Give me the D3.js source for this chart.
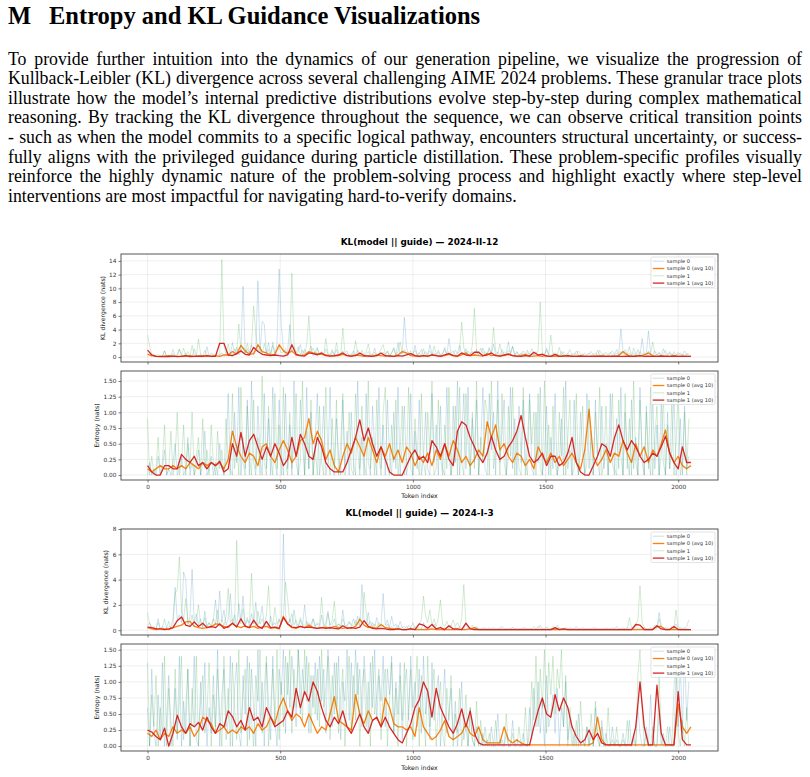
<!DOCTYPE html>
<html><head><meta charset="utf-8">
<script src="https://cdn.jsdelivr.net/npm/d3@7"></script>
<style>
html,body{margin:0;padding:0;background:#fff;width:810px;height:777px;overflow:hidden;}
#page{position:relative;width:810px;height:777px;}
.ln{position:absolute;left:8px;width:794px;height:19.65px;font-family:"Liberation Serif","Times New Roman",serif;font-size:17.8px;line-height:19.65px;text-align:justify;text-align-last:justify;color:#000;white-space:nowrap;}
.ln.last{text-align-last:left;}
svg{position:absolute;left:0;top:0;}
</style></head>
<body><div id="page"></div>
<script>
// ---------------- text ----------------
const sectionNum = "M";
const sectionTitle = "Entropy and KL Guidance Visualizations";
const paragraphLines = [
"To provide further intuition into the dynamics of our generation pipeline, we visualize the progression of",
"Kullback-Leibler (KL) divergence across several challenging AIME 2024 problems. These granular trace plots",
"illustrate how the model’s internal predictive distributions evolve step-by-step during complex mathematical",
"reasoning. By tracking the KL divergence throughout the sequence, we can observe critical transition points",
"- such as when the model commits to a specific logical pathway, encounters structural uncertainty, or success-",
"fully aligns with the privileged guidance during particle distillation. These problem-specific profiles visually",
"reinforce the highly dynamic nature of the problem-solving process and highlight exactly where step-level",
"interventions are most impactful for navigating hard-to-verify domains."
];
const figTitles = ["KL(model || guide) — 2024-II-12", "KL(model || guide) — 2024-I-3"];
const legendLabels = ["sample 0", "sample 0 (avg 10)", "sample 1", "sample 1 (avg 10)"];
const xTickVals = [0, 500, 1000, 1500, 2000];
const klTicks1 = [0, 2, 4, 6, 8, 10, 12, 14];
const klTicks2 = [0, 2, 4, 6, 8];
const entTicks = [0, 0.25, 0.5, 0.75, 1.0, 1.25, 1.5];
const rawStep = 8;   // token spacing of raw samples
const avgStep = 16;  // token spacing of avg-10 samples

// ---------------- data: figure 1 (2024-II-12) ----------------
const kl1_s0 = [
0.6,0.2,0.1,0.3,0.1,0.05,0.2,0.1,0.9,0.1,0.2,0.1,0.5,0.1,0.2,1.1,
0.2,0.1,0.6,0.1,0.3,0.1,1.2,0.2,0.1,0.4,0.1,0.2,1.5,0.1,0.3,0.2,
0.3,0.1,0.2,0.6,0.1,0.4,0.2,0.3,2.1,0.5,1.4,0.3,0.8,10.3,0.6,1.2,
0.4,1.8,0.3,0.9,11.1,0.6,5.2,4.8,0.5,2.1,0.3,1.7,0.4,2.0,12.8,4.6,
1.2,0.3,0.8,4.7,0.6,1.5,0.2,0.9,1.8,0.3,1.1,0.4,0.7,1.6,0.2,0.9,
1.4,0.3,0.6,0.2,1.2,0.4,0.1,0.8,0.3,1.1,0.2,0.5,0.9,0.2,0.6,0.3,
0.2,0.9,0.3,1.0,0.2,0.6,0.1,0.4,0.8,0.2,0.3,1.3,0.2,0.5,0.1,0.7,
0.3,0.8,0.2,0.6,1.2,0.3,2.1,0.4,0.6,5.8,1.4,0.3,0.9,0.2,1.7,0.4,
0.5,1.1,0.3,0.8,0.2,1.8,0.4,0.6,0.2,1.0,0.3,0.5,1.4,0.3,2.7,0.6,
0.9,0.2,0.6,1.7,0.3,0.5,1.2,0.2,0.4,0.8,0.3,1.1,0.2,0.6,1.3,0.3,
0.5,1.4,0.3,1.9,0.4,0.7,0.2,1.1,0.3,0.6,2.2,0.4,1.6,0.3,0.8,0.2,
0.6,0.2,0.4,1.0,0.2,0.5,0.3,0.8,0.2,0.3,0.6,0.2,1.3,0.4,0.2,0.5,
0.2,0.5,0.1,0.8,0.3,0.2,0.6,0.1,0.4,0.2,0.9,0.3,0.1,0.5,0.2,0.3,
0.6,0.2,0.4,0.1,1.0,0.3,0.2,0.5,0.1,0.3,0.7,0.2,0.4,1.1,0.3,4.1,
0.8,0.3,0.5,1.5,0.2,0.6,0.3,1.1,0.2,2.7,0.4,0.5,3.8,0.6,0.3,0.9,
0.3,0.6,0.2,1.2,0.4,0.2,0.8,0.3,0.5,0.2,0.7,0.3,0.4,0.2,0.5,0.3];
const kl1_s1 = [
3.2,1.6,0.3,0.2,0.1,0.4,0.1,0.2,0.9,0.1,0.3,0.2,1.1,0.1,0.4,1.2,
0.3,1.3,0.2,0.8,0.1,1.7,0.3,0.2,2.6,0.4,0.1,1.0,0.3,0.2,0.6,0.4,
0.2,0.6,0.3,14.2,1.6,0.4,1.9,0.5,0.3,1.2,0.6,4.8,0.9,1.4,0.5,2.0,
0.6,1.8,7.4,3.4,0.8,1.5,0.4,2.0,0.6,1.1,0.3,2.2,0.5,0.8,1.4,0.6,
0.7,1.2,0.4,0.9,12.2,1.8,0.6,1.5,0.3,1.0,0.5,1.9,6.0,0.8,1.3,0.4,
1.2,0.3,0.8,0.4,2.7,0.6,0.3,1.1,0.2,2.1,0.5,0.3,4.2,0.6,0.9,0.2,
0.5,0.3,2.4,0.6,0.2,1.0,0.3,0.8,1.9,0.4,0.3,0.7,0.2,0.5,1.2,1.8,
0.4,0.9,0.2,0.6,1.4,0.3,0.8,2.2,0.5,1.1,0.3,0.7,0.2,0.5,1.0,0.3,
0.6,0.3,1.2,0.2,0.5,0.9,0.3,1.6,0.4,0.7,0.2,0.5,1.1,0.3,0.8,0.4,
0.3,1.0,0.5,0.8,5.1,1.4,0.4,0.9,0.3,1.7,7.1,0.6,0.4,1.3,0.5,0.8,
0.4,1.1,0.6,4.3,0.9,0.5,1.9,0.3,0.8,0.4,1.0,0.6,1.5,0.3,0.7,0.4,
0.3,0.9,0.2,0.6,0.4,1.2,0.3,0.5,0.8,8.0,0.6,0.4,1.0,0.3,3.2,0.5,
0.6,0.2,1.4,0.3,0.8,0.2,0.5,1.1,0.3,0.6,0.2,0.9,0.4,0.3,0.6,0.2,
0.5,0.8,0.3,0.6,0.2,1.0,0.4,0.3,0.7,0.2,0.5,0.9,0.3,0.6,0.2,0.8,
0.4,1.1,0.3,0.6,0.2,1.3,0.5,0.3,0.8,0.4,0.6,0.2,0.9,0.3,2.2,0.5,
0.3,0.7,0.2,0.5,1.0,0.3,0.6,0.2,0.8,0.4,0.3,0.6,0.2,0.9,0.3,0.5];
const kl1_a0 = [
0.4,0.2,0.1,0.1,0.1,0.2,0.1,0.1,
0.15,0.1,0.2,0.1,0.15,0.2,0.1,0.15,
0.2,0.1,0.3,0.3,0.8,0.4,1.7,0.9,
0.4,0.5,1.8,0.8,0.6,0.3,0.4,1.8,
0.9,0.5,0.9,0.3,0.2,0.3,0.8,0.6,
0.5,0.4,0.3,0.2,0.15,0.2,0.4,0.2,
0.15,0.3,0.2,0.1,0.2,0.15,0.3,0.2,
0.15,0.2,0.1,0.3,0.8,0.6,0.2,0.15,
0.15,0.2,0.1,0.3,0.2,0.15,0.2,0.4,
0.2,0.1,0.3,0.6,0.2,0.3,0.2,0.15,
0.5,0.2,0.3,0.15,0.2,0.5,0.2,0.1,
0.2,0.4,0.1,0.15,0.2,0.1,0.2,0.1,
0.15,0.1,0.2,0.1,0.15,0.1,0.2,0.1,
0.1,0.15,0.1,0.2,0.1,0.15,0.1,0.2,
0.8,0.3,0.1,0.2,0.15,0.3,0.6,0.2,
0.1,0.2,0.15,0.1,0.2,0.1,0.15,0.1,
0.1];
const kl1_a1 = [
1.0,0.3,0.1,0.05,0.1,0.05,0.15,0.05,
0.1,0.2,0.05,0.1,0.15,0.1,0.2,0.1,
0.1,2.0,2.0,0.3,0.2,0.5,0.9,0.4,
0.3,1.4,0.8,0.4,0.3,0.2,0.3,0.2,
0.15,0.3,1.8,0.4,0.2,0.15,0.6,0.5,
0.3,0.6,0.2,0.15,0.2,0.3,0.6,0.2,
0.15,0.2,0.6,0.2,0.15,0.1,0.2,0.6,
0.2,0.15,0.1,0.2,0.15,0.3,0.5,0.2,
0.1,0.2,0.15,0.3,0.2,0.1,0.3,0.5,
0.2,0.15,0.6,0.3,0.2,0.7,0.7,0.2,
0.3,0.6,0.2,0.15,0.3,0.4,0.2,0.15,
0.1,0.2,0.15,0.7,0.3,0.4,0.15,0.1,
0.4,0.1,0.15,0.2,0.1,0.1,0.15,0.1,
0.1,0.1,0.15,0.1,0.1,0.1,0.15,0.1,
0.1,0.15,0.1,0.1,0.2,0.1,0.15,0.1,
0.1,0.15,0.1,0.1,0.15,0.1,0.1,0.1,
0.1];
const ent1_s0 = [
0.0,0.2,0.0,0.1,0.0,0.3,0.0,0.1,0.4,0.0,0.1,0.0,0.2,0.5,0.0,0.1,
0.3,0.0,0.1,0.6,0.0,0.2,0.0,0.1,0.4,0.0,0.2,0.7,0.0,0.1,0.3,0.0,
0.2,0.0,0.5,0.1,0.0,0.3,1.3,0.1,0.0,1.0,0.2,1.4,0.0,0.6,0.1,1.2,
0.0,1.5,0.2,0.0,1.1,0.3,0.0,1.3,0.1,0.9,0.0,1.4,0.2,0.0,1.2,0.4,
0.0,1.3,0.1,0.8,0.0,1.5,0.2,0.0,1.2,0.5,0.0,1.4,0.1,1.0,0.0,0.6,
1.3,0.0,0.4,1.1,0.0,0.2,1.4,0.1,0.0,0.9,0.3,0.0,1.2,0.1,0.7,0.0,
1.0,0.2,0.0,1.5,0.1,0.6,0.0,1.3,0.2,0.0,1.1,0.4,0.0,1.4,0.1,0.8,
0.0,1.2,0.3,0.0,1.0,0.1,1.4,0.0,0.5,1.1,0.0,0.2,1.3,0.0,0.7,0.1,
1.2,0.0,0.3,1.0,0.1,0.0,1.3,0.2,0.8,0.0,1.1,0.1,0.0,1.4,0.3,0.0,
1.1,0.2,1.5,0.0,0.6,1.3,0.1,1.4,0.0,0.9,0.2,1.2,0.0,0.5,1.4,0.1,
0.0,1.3,0.4,1.0,0.0,1.5,0.2,0.7,1.2,0.0,0.3,1.4,0.1,0.9,0.0,1.1,
0.2,1.2,0.0,0.5,1.3,0.1,0.0,1.0,0.2,1.4,0.0,0.3,1.1,0.0,0.6,0.1,
1.3,0.0,0.2,0.9,0.0,1.5,0.1,0.4,0.0,1.2,0.2,0.0,1.0,0.3,0.0,1.3,
0.1,0.7,0.0,1.2,0.2,0.0,1.1,0.1,0.5,0.0,1.3,0.2,0.0,0.9,0.1,1.4,
0.0,1.0,0.3,0.0,1.2,0.1,0.6,0.0,1.4,0.2,0.0,1.1,0.3,0.0,1.3,0.1,
0.8,0.0,1.2,0.2,0.0,1.0,0.1,0.4,1.3,0.0,0.2,0.9,0.0,1.1,0.1,0.3];
const ent1_s1 = [
0.9,0.0,0.3,0.0,0.1,0.6,0.0,0.2,0.8,0.0,0.1,0.7,0.0,0.3,1.0,0.0,
0.2,0.8,0.0,0.5,0.1,1.0,0.0,0.3,0.6,0.0,0.9,0.1,0.4,0.0,0.8,0.2,
0.0,0.7,0.1,0.4,0.0,0.9,0.2,0.0,1.3,0.1,0.5,0.0,1.4,0.2,0.0,1.1,
0.3,0.0,1.2,0.1,0.6,0.0,1.58,0.2,0.0,1.1,0.3,0.0,1.3,0.1,0.8,0.0,
1.4,0.2,0.0,1.0,0.1,0.5,1.3,0.0,0.2,1.5,0.0,0.7,0.1,1.2,0.0,0.4,
0.0,1.1,0.2,0.0,1.4,0.3,0.0,0.9,0.1,1.2,0.0,0.5,1.3,0.0,0.2,1.0,
0.1,0.0,1.3,0.4,0.0,1.1,0.2,0.0,1.5,0.1,0.6,0.0,1.2,0.3,0.0,1.0,
1.4,0.1,0.0,0.8,0.2,1.2,0.0,0.4,1.1,0.0,0.2,1.4,0.1,0.0,0.9,0.3,
0.0,1.3,0.2,0.0,1.0,0.4,1.5,0.0,0.1,1.2,0.3,0.0,0.8,0.1,1.4,0.0,
0.3,1.1,0.0,1.4,0.2,0.0,1.3,0.5,0.0,1.0,0.1,1.5,0.0,0.6,0.2,1.2,
1.0,0.0,1.5,0.1,0.4,1.2,0.0,1.3,0.2,0.0,1.1,0.3,1.4,0.0,0.7,0.1,
0.0,1.4,0.2,0.0,1.2,0.5,1.0,0.0,1.3,0.1,0.0,1.5,0.2,0.8,0.0,1.1,
0.2,0.0,1.0,0.3,1.4,0.0,0.6,1.2,0.0,0.1,1.3,0.0,0.4,1.1,0.0,0.2,
1.2,0.1,0.0,1.0,0.3,1.4,0.0,0.2,1.1,0.0,0.6,1.3,0.1,0.0,1.2,0.3,
0.0,1.3,0.1,0.9,0.0,1.5,0.2,0.0,1.2,0.4,0.0,1.0,0.1,1.4,0.0,0.6,
1.1,0.0,0.3,1.3,0.0,0.8,0.1,1.2,0.0,0.5,1.4,0.0,0.2,1.0,0.0,0.9];
const ent1_a0 = [
0.1,0.05,0.1,0.15,0.1,0.1,0.15,0.1,
0.15,0.1,0.2,0.15,0.1,0.2,0.15,0.2,
0.15,0.2,0.1,0.25,0.7,0.45,0.3,0.2,
0.35,0.3,0.15,0.45,0.5,0.3,0.2,0.4,
0.55,0.4,0.2,0.3,0.55,0.6,0.9,0.5,
0.7,0.55,0.25,0.4,0.15,0.05,0.3,0.5,
0.35,0.6,0.45,0.3,0.6,0.4,0.2,0.45,
0.3,0.5,0.25,0.4,0.2,0.45,0.35,0.15,
0.3,0.2,0.35,0.15,0.4,0.25,0.5,0.3,
0.55,0.4,0.2,0.3,0.15,0.25,0.4,0.3,
0.85,0.6,0.8,0.4,0.5,0.3,0.2,0.35,
0.3,0.15,0.25,0.1,0.45,0.3,0.2,0.35,
0.2,0.3,0.15,0.25,0.35,0.2,0.1,0.4,
1.05,0.3,0.15,0.25,0.4,0.2,0.35,0.3,
0.55,0.35,0.2,0.5,0.3,0.45,0.2,0.4,
0.3,0.5,0.72,0.35,0.2,0.3,0.15,0.1,
0.15];
const ent1_a1 = [
0.15,0.05,0.0,0.0,0.15,0.15,0.1,0.1,
0.33,0.25,0.2,0.3,0.15,0.2,0.1,0.2,
0.15,0.22,0.05,0.1,0.5,0.3,0.68,0.3,
0.55,0.65,0.45,0.25,0.45,0.3,0.5,0.35,
0.15,0.25,0.6,0.3,0.65,0.5,0.3,0.25,
0.6,0.45,0.2,0.1,0.05,0.05,0.05,0.2,
0.4,0.6,0.88,0.55,0.75,0.5,0.3,0.45,
0.25,0.05,0.0,0.0,0.0,0.15,0.3,0.4,
0.25,0.3,0.2,0.55,0.45,0.3,0.5,0.25,
0.15,0.7,0.85,0.8,0.6,0.45,0.3,0.2,
0.35,0.62,0.4,0.25,0.3,0.45,0.55,0.7,
0.95,0.6,0.3,0.2,0.25,0.35,0.15,0.3,
0.3,0.15,0.2,0.35,0.6,0.2,0.05,0.0,
0.0,0.15,0.3,0.5,0.45,0.3,0.6,0.8,
0.55,0.4,0.55,0.45,0.3,0.2,0.25,0.35,
0.3,0.45,0.62,0.35,0.2,0.1,0.45,0.2,
0.2];

// ---------------- data: figure 2 (2024-I-3) ----------------
const kl2_s0 = [
0.3,0.6,0.1,0.2,0.1,0.9,0.1,0.3,0.1,0.2,0.7,0.1,0.3,3.4,0.8,1.2,
0.6,4.6,4.0,0.5,1.1,4.8,0.6,1.3,0.4,0.9,0.2,1.5,0.3,0.6,0.2,0.8,
2.4,0.5,3.1,0.7,1.6,0.4,0.9,2.9,0.5,1.2,0.3,2.1,0.8,2.7,0.4,1.0,
0.3,1.3,0.5,2.2,0.4,0.8,1.9,0.3,0.7,0.2,1.1,0.4,0.6,0.2,0.9,0.5,
7.6,1.2,0.4,0.9,0.3,1.6,0.5,0.2,0.8,0.3,2.0,0.4,0.6,0.2,0.9,0.3,
0.5,0.2,1.2,0.3,0.6,1.5,0.2,0.4,0.9,0.2,0.5,0.3,1.6,0.2,0.4,0.7,
0.3,0.9,0.4,1.1,0.3,3.6,0.8,0.5,1.4,0.2,0.6,0.3,1.0,0.2,0.4,2.9,
0.4,0.8,0.2,1.1,0.3,0.5,0.1,0.7,0.2,0.3,0.1,0.4,0.2,0.1,0.3,0.1,
0.2,0.1,0.6,0.1,0.3,0.1,0.2,0.5,0.1,0.1,0.3,0.1,0.2,0.1,0.1,0.4,
0.1,0.2,0.1,0.3,0.1,0.1,0.5,0.1,0.2,0.1,0.1,0.3,0.1,0.1,0.1,0.2,
0.1,0.1,0.1,0.2,0.1,0.1,0.1,0.3,0.1,0.1,0.1,0.1,0.2,0.1,0.1,0.1,
0.1,0.1,0.2,0.1,0.1,0.1,0.1,0.1,0.3,0.1,0.1,0.1,0.2,0.1,0.1,0.1,
0.1,0.4,0.1,0.1,0.1,0.2,0.1,0.1,0.1,0.1,0.3,0.1,0.1,0.1,0.1,0.1,
0.1,0.1,0.2,0.1,0.1,0.1,0.1,0.1,0.2,0.1,0.1,0.1,0.1,0.3,0.1,0.1,
0.1,0.1,0.2,0.1,0.1,0.1,0.3,0.1,0.1,0.1,0.2,0.1,0.1,0.1,0.1,0.4,
0.2,1.4,0.3,0.1,0.2,0.1,0.1,0.3,0.1,0.5,0.1,0.2,0.1,0.1,0.3,0.8];
const kl2_s1 = [
1.4,0.5,0.2,0.3,0.1,0.6,0.1,0.2,0.9,0.1,0.3,0.2,1.0,2.9,3.2,5.8,
1.6,0.8,2.5,0.6,0.4,1.2,0.3,0.7,2.0,0.5,0.3,1.0,0.2,0.6,0.3,0.9,
0.5,1.6,0.3,0.8,0.4,1.1,3.3,0.6,0.9,0.4,7.1,1.2,0.5,1.7,0.3,0.8,
0.6,4.5,0.8,0.3,1.5,0.5,0.9,0.4,1.2,3.5,0.6,0.3,1.8,0.5,0.8,0.4,
1.2,3.8,2.5,0.6,1.3,0.4,0.8,0.3,1.0,0.5,0.3,0.7,0.2,0.5,0.9,0.3,
0.6,0.4,2.6,0.5,0.3,1.3,0.4,0.8,2.3,0.3,0.5,0.2,0.9,0.4,0.3,0.6,
0.5,0.3,0.8,0.4,1.0,0.6,3.0,1.4,0.4,0.7,0.3,0.5,0.2,0.6,0.3,0.4,
0.2,0.5,0.1,0.3,0.1,0.2,0.4,0.1,0.2,0.1,0.3,0.1,0.2,0.6,0.1,0.3,
0.5,0.8,2.7,1.1,0.6,1.6,0.4,0.9,0.3,1.0,2.4,0.5,0.3,0.7,0.2,0.4,
0.8,0.3,0.6,0.2,0.9,3.6,0.5,0.3,0.2,0.4,0.1,0.2,0.1,0.1,0.2,0.1,
0.1,0.2,0.1,0.1,0.1,0.1,0.2,0.1,0.1,0.1,0.1,0.1,0.2,0.1,0.1,0.1,
0.1,0.2,0.1,0.1,0.1,0.1,0.3,0.1,0.1,0.4,0.1,0.1,0.2,0.1,0.1,0.3,
0.1,0.1,0.2,0.1,0.1,0.1,0.1,0.2,0.1,0.1,0.1,0.1,0.1,0.2,0.1,0.1,
0.1,0.1,0.1,0.2,0.1,0.1,0.1,0.1,0.1,0.1,0.1,0.2,0.1,0.1,0.1,0.1,
0.2,0.1,0.1,1.0,0.2,0.1,0.4,0.8,3.5,0.6,0.2,0.1,0.1,0.2,0.1,0.1,
0.1,0.9,0.2,0.1,0.1,0.2,0.1,0.1,0.1,1.6,0.3,0.1,0.1,0.2,0.1,0.1];
const kl2_a0 = [
0.2,0.1,0.05,0.1,0.1,0.05,0.2,0.3,
0.4,0.65,0.7,0.3,0.2,0.15,0.2,0.25,
0.5,0.45,0.3,0.2,0.55,0.3,0.2,0.35,
0.2,0.3,0.15,0.25,0.3,0.15,0.2,0.1,
1.1,0.5,0.2,0.15,0.3,0.2,0.4,0.2,
0.15,0.2,0.25,0.15,0.3,0.2,0.15,0.2,
0.15,0.3,0.85,0.4,0.2,0.25,0.15,0.45,
0.2,0.15,0.1,0.1,0.05,0.05,0.1,0.05,
0.05,0.05,0.05,0.1,0.05,0.05,0.05,0.05,
0.05,0.05,0.05,0.05,0.1,0.2,0.05,0.05,
0.05,0.05,0.05,0.05,0.05,0.05,0.05,0.05,
0.05,0.05,0.05,0.05,0.05,0.05,0.05,0.05,
0.05,0.05,0.05,0.05,0.05,0.05,0.05,0.05,
0.05,0.05,0.05,0.05,0.05,0.05,0.05,0.05,
0.05,0.05,0.05,0.05,0.05,0.05,0.05,0.05,
0.3,0.3,0.05,0.05,0.05,0.05,0.05,0.05,
0.05];
const kl2_a1 = [
0.25,0.2,0.1,0.1,0.05,0.1,0.2,0.75,
1.05,0.4,0.3,0.65,0.3,0.55,0.2,0.3,
0.2,0.5,0.15,0.3,0.55,0.25,0.9,0.3,
0.2,0.8,0.3,0.15,0.7,0.2,0.25,0.15,
1.0,0.5,0.25,0.2,0.3,0.2,0.25,0.2,
0.15,0.2,0.15,0.2,0.15,0.1,0.35,0.15,
0.2,0.15,0.25,0.75,0.3,0.15,0.1,0.15,
0.1,0.05,0.05,0.1,0.05,0.05,0.1,0.05,
0.5,0.4,0.15,0.45,0.1,0.2,0.05,0.35,
0.1,0.1,0.05,0.55,0.1,0.05,0.05,0.05,
0.05,0.05,0.05,0.05,0.05,0.05,0.05,0.05,
0.05,0.05,0.05,0.05,0.05,0.05,0.05,0.05,
0.2,0.05,0.1,0.05,0.05,0.05,0.05,0.05,
0.05,0.05,0.05,0.05,0.05,0.05,0.05,0.05,
0.05,0.05,0.05,0.45,0.4,0.05,0.05,0.05,
0.35,0.1,0.05,0.05,0.3,0.05,0.05,0.05,
0.05];
const ent2_s0 = [
0.6,0.0,1.2,0.2,0.0,0.8,0.1,1.3,0.0,0.4,1.1,0.0,0.3,0.9,0.1,1.4,
0.0,0.7,0.2,1.2,0.0,0.5,1.4,0.1,0.0,1.0,0.3,1.3,0.0,0.6,0.2,1.1,
0.3,1.5,0.0,0.8,1.2,0.1,0.4,1.4,0.0,0.9,1.3,0.2,0.0,1.1,0.5,1.4,
0.1,1.2,0.6,0.0,1.5,0.3,1.0,0.0,1.3,0.7,0.1,1.4,0.4,0.0,1.2,0.8,
1.5,0.2,1.3,0.6,1.4,0.9,0.3,1.5,0.5,1.2,0.8,1.4,0.2,1.1,0.6,1.3,
0.4,1.4,0.7,1.2,0.2,1.5,0.9,0.3,1.3,0.6,1.4,0.1,1.0,0.7,1.5,0.4,
1.3,0.5,1.5,0.8,1.2,0.3,1.4,0.9,0.2,1.3,0.6,1.5,0.4,1.1,0.7,1.4,
0.3,1.2,0.8,1.4,0.2,1.0,0.5,1.3,0.1,0.9,1.2,0.4,1.4,0.6,1.0,0.3,
1.2,0.2,1.4,0.5,0.9,0.1,1.3,0.4,0.8,1.1,0.0,0.6,1.2,0.2,0.5,0.9,
0.1,0.7,0.0,0.4,1.0,0.1,0.3,0.0,0.6,0.1,0.0,0.3,0.1,0.0,0.2,0.0,
0.1,0.0,0.3,0.0,0.0,0.5,0.0,0.1,0.0,0.2,0.0,0.0,0.4,0.0,0.1,0.0,
0.0,0.2,0.0,0.0,0.6,0.1,0.9,0.3,1.0,0.2,0.7,0.0,1.1,0.3,0.5,0.8,
0.2,0.9,0.0,0.6,0.3,1.0,0.1,0.4,0.0,0.2,0.0,0.5,0.0,0.1,0.0,0.3,
0.0,0.2,0.0,0.6,0.1,0.0,0.4,0.0,0.2,0.0,0.0,0.3,0.0,0.1,0.0,0.0,
0.2,0.0,0.0,0.4,0.0,0.1,0.0,0.6,0.2,0.0,0.0,0.3,0.0,0.8,0.1,0.0,
0.0,0.5,0.0,0.2,0.0,0.0,0.3,0.0,0.0,1.2,0.3,1.3,0.2,1.5,0.4,1.0];
const ent2_s1 = [
1.3,0.0,0.8,0.3,1.1,0.0,0.6,0.2,1.4,0.0,0.9,0.4,0.0,1.2,0.2,0.7,
1.4,0.1,0.6,1.2,0.0,0.9,0.3,1.4,0.0,0.7,1.1,0.2,0.5,1.3,0.0,0.8,
0.2,1.2,0.5,0.0,1.4,0.3,0.9,0.0,1.3,0.6,0.1,1.5,0.2,0.8,1.2,0.0,
1.3,0.4,0.0,1.1,0.7,1.5,0.2,0.9,1.4,0.0,0.6,1.2,0.3,1.5,0.1,1.0,
0.3,1.4,0.8,1.5,0.2,1.2,0.6,1.5,1.0,0.4,1.5,0.7,1.3,0.2,1.1,0.5,
1.2,0.3,1.5,0.6,0.9,1.4,0.1,1.1,0.5,1.3,0.2,0.8,1.2,0.0,0.9,1.4,
0.2,1.1,0.4,1.3,0.0,0.9,1.2,0.3,1.0,0.0,1.4,0.5,0.8,1.2,0.1,0.9,
1.2,0.0,0.7,1.3,0.2,0.9,0.0,1.1,0.4,1.3,0.0,0.6,1.2,0.1,0.8,1.4,
0.0,1.1,0.5,0.0,1.4,0.3,0.8,1.2,0.0,0.6,1.0,0.2,0.0,0.9,0.4,1.1,
0.0,0.5,0.2,0.9,0.0,0.3,0.8,0.0,0.6,0.1,0.0,0.7,0.0,0.4,0.0,0.3,
0.0,0.2,0.0,0.0,0.4,0.0,0.1,0.0,0.0,0.5,0.0,0.0,0.2,0.0,0.0,0.3,
0.0,0.0,0.6,0.0,0.2,1.0,0.4,1.4,0.3,1.2,0.6,1.5,0.2,1.3,0.8,1.4,
0.5,1.2,0.9,1.5,0.3,1.1,0.0,0.6,0.2,0.0,0.4,0.0,0.7,0.1,0.0,0.3,
0.0,0.5,0.0,0.7,0.2,0.0,0.3,0.0,0.0,0.6,0.0,0.1,0.0,0.3,0.0,0.0,
0.1,0.0,0.4,0.0,0.0,0.2,0.0,1.1,1.5,0.6,0.0,0.2,0.0,0.0,0.3,0.0,
0.0,1.1,0.2,0.0,0.0,0.3,0.0,0.0,0.9,1.5,0.2,0.0,0.4,0.0,0.6,0.0];
const ent2_a0 = [
0.2,0.15,0.25,0.1,0.2,0.15,0.3,0.2,
0.25,0.2,0.3,0.15,0.25,0.45,0.4,0.35,
0.2,0.25,0.3,0.2,0.25,0.2,0.3,0.25,
0.3,0.2,0.35,0.25,0.3,0.45,0.35,0.6,
0.75,0.55,0.4,0.5,0.45,0.3,0.5,0.35,
0.2,0.3,0.25,0.5,0.77,0.4,0.35,0.3,
0.25,0.8,0.5,0.35,0.55,0.4,0.45,0.3,
0.75,0.6,0.35,0.3,0.3,0.25,0.3,0.15,
0.6,0.3,0.2,0.1,0.15,0.25,0.4,0.15,
0.1,0.15,0.2,0.35,0.2,0.15,0.3,0.1,
0.05,0.05,0.05,0.05,0.3,0.1,0.05,0.1,
0.05,0.02,0.02,0.02,0.02,0.02,0.02,0.02,
0.02,0.02,0.02,0.02,0.02,0.02,0.02,0.02,
0.02,0.05,0.45,0.1,0.02,0.02,0.02,0.02,
0.02,0.02,0.02,0.02,0.02,0.02,0.02,0.02,
0.02,0.02,0.02,0.02,0.02,0.65,0.3,0.2,
0.3];
const ent2_a1 = [
0.25,0.22,0.15,0.1,0.28,0.0,0.2,0.48,
0.3,0.2,0.35,0.3,0.37,0.25,0.45,0.3,
0.2,0.35,0.3,0.55,0.46,0.3,0.4,0.25,
0.6,0.4,0.45,0.3,0.6,0.45,0.3,0.35,
0.4,0.55,0.45,0.9,0.6,0.85,0.7,1.0,
0.85,0.6,0.4,0.3,0.45,0.35,0.55,0.3,
0.2,0.35,0.5,0.3,0.2,0.4,0.45,0.3,
0.45,0.3,0.2,0.1,0.05,0.2,0.35,0.6,
0.72,1.0,0.85,0.45,0.9,0.6,0.45,0.3,
0.2,0.35,0.58,0.3,0.55,0.2,0.05,0.02,
0.02,0.02,0.02,0.02,0.02,0.02,0.02,0.02,
0.02,0.02,0.02,0.3,0.55,0.75,0.5,0.45,
0.8,0.55,0.75,0.6,0.3,0.15,0.05,0.1,
0.25,0.1,0.2,0.05,0.02,0.02,0.02,0.02,
0.02,0.02,0.02,0.3,1.0,0.3,0.02,0.02,
0.95,0.2,0.02,0.02,0.02,0.85,0.1,0.02,
0.02];

// ---------------- drawing ----------------
const W = 810, H = 777;
const page = d3.select("#page");

const svg = page.append("svg").attr("width", W).attr("height", H);
svg.append("text").attr("x", 8).attr("y", 24)
  .attr("font-family", "'Liberation Serif','Times New Roman',serif")
  .attr("font-weight", "bold").attr("font-size", 24.5).text(sectionNum);
svg.append("text").attr("x", 49).attr("y", 24)
  .attr("font-family", "'Liberation Serif','Times New Roman',serif")
  .attr("font-weight", "bold").attr("font-size", 24.5).text(sectionTitle);

paragraphLines.forEach((t, i) => {
  page.append("div").attr("class", "ln" + (i === paragraphLines.length - 1 ? " last" : ""))
    .style("top", (49.5 + i * 19.65) + "px").text(t);
});

const X0 = 121, X1 = 718;
const xDomain = [-100, 2150];
const x = d3.scaleLinear().domain(xDomain).range([X0, X1]);
const colors = { s0: "#1f77b4", a0: "#ff7f0e", s1: "#2ca02c", a1: "#d62728" };
const fontSans = "'DejaVu Sans', sans-serif";

const figures = [
  { title: figTitles[0], titleY: 244.5, tokenY: 497.5, panels: [
    { y0: 254, y1: 362, dom: [-0.72, 15.0], ticks: klTicks1, fmt: d3.format("d"), label: "KL divergence (nats)",
      s0: kl1_s0, a0: kl1_a0, s1: kl1_s1, a1: kl1_a1, showX: false },
    { y0: 371, y1: 480, dom: [-0.079, 1.66], ticks: entTicks, fmt: d3.format(".2f"), label: "Entropy (nats)",
      s0: ent1_s0, a0: ent1_a0, s1: ent1_s1, a1: ent1_a1, showX: true } ] },
  { title: figTitles[1], titleY: 516.3, tokenY: 770, panels: [
    { y0: 529, y1: 635, dom: [-0.38, 8.0], ticks: klTicks2, fmt: d3.format("d"), label: "KL divergence (nats)",
      s0: kl2_s0, a0: kl2_a0, s1: kl2_s1, a1: kl2_a1, showX: false },
    { y0: 644, y1: 751, dom: [-0.076, 1.59], ticks: entTicks, fmt: d3.format(".2f"), label: "Entropy (nats)",
      s0: ent2_s0, a0: ent2_a0, s1: ent2_s1, a1: ent2_a1, showX: true } ] }
];

let clipId = 0;
function drawPanel(g, p) {
  const y = d3.scaleLinear().domain(p.dom).range([p.y1, p.y0]);
  const grid = g.append("g").attr("stroke", "#b0b0b0").attr("stroke-opacity", 0.3).attr("stroke-width", 0.7);
  grid.selectAll("line.v").data(xTickVals).join("line").attr("class", "v")
    .attr("x1", d => x(d)).attr("x2", d => x(d)).attr("y1", p.y0).attr("y2", p.y1);
  grid.selectAll("line.h").data(p.ticks).join("line").attr("class", "h")
    .attr("x1", X0).attr("x2", X1).attr("y1", d => y(d)).attr("y2", d => y(d));
  const id = "clip" + (clipId++);
  g.append("clipPath").attr("id", id).append("rect")
    .attr("x", X0).attr("y", p.y0).attr("width", X1 - X0).attr("height", p.y1 - p.y0);
  const lines = g.append("g").attr("clip-path", `url(#${id})`);
  const series = [
    { data: p.s0, step: rawStep, color: colors.s0, w: 0.7, op: 0.3 },
    { data: p.a0, step: avgStep, color: colors.a0, w: 1.3, op: 1 },
    { data: p.s1, step: rawStep, color: colors.s1, w: 0.7, op: 0.3 },
    { data: p.a1, step: avgStep, color: colors.a1, w: 1.3, op: 1 }
  ];
  series.forEach(s => {
    const line = d3.line().x((d, i) => x(i * s.step)).y(d => y(d));
    lines.append("path").datum(s.data).attr("d", line)
      .attr("fill", "none").attr("stroke", s.color).attr("stroke-width", s.w)
      .attr("stroke-opacity", s.op).attr("stroke-linejoin", "round");
  });
  g.append("rect").attr("x", X0).attr("y", p.y0).attr("width", X1 - X0).attr("height", p.y1 - p.y0)
    .attr("fill", "none").attr("stroke", "#444").attr("stroke-width", 0.9);
  const ya = g.append("g").attr("transform", `translate(${X0},0)`)
    .call(d3.axisLeft(y).tickValues(p.ticks).tickFormat(p.fmt).tickSize(2.5).tickPadding(2));
  ya.select(".domain").remove();
  ya.selectAll("line").attr("stroke", "#444").attr("stroke-width", 0.7);
  ya.selectAll("text").attr("font-family", fontSans).attr("font-size", 5.8).attr("fill", "#333");
  const xa = g.append("g").attr("transform", `translate(0,${p.y1})`)
    .call(d3.axisBottom(x).tickValues(xTickVals).tickFormat(p.showX ? d3.format("d") : () => "").tickSize(2.5).tickPadding(2.5));
  xa.select(".domain").remove();
  xa.selectAll("line").attr("stroke", "#444").attr("stroke-width", 0.7);
  xa.selectAll("text").attr("font-family", fontSans).attr("font-size", 5.8).attr("fill", "#333");
  const bb = ya.node().getBBox();
  const lx = X0 + bb.x - 4.5;
  g.append("text").attr("transform", `translate(${lx},${(p.y0 + p.y1) / 2}) rotate(-90)`)
    .attr("text-anchor", "middle").attr("font-family", fontSans).attr("font-size", 6.2).attr("fill", "#222")
    .text(p.label);
  const lg = g.append("g").attr("transform", `translate(651,${p.y0 + 3})`);
  lg.append("rect").attr("width", 64).attr("height", 30.5).attr("rx", 1.5)
    .attr("fill", "#fff").attr("fill-opacity", 0.85).attr("stroke", "#d0d0d0").attr("stroke-width", 0.6);
  const legSeries = [
    { c: colors.s0, w: 0.75, op: 0.32 }, { c: colors.a0, w: 1.3, op: 1 },
    { c: colors.s1, w: 0.75, op: 0.32 }, { c: colors.a1, w: 1.3, op: 1 }
  ];
  legendLabels.forEach((lab, i) => {
    const yy = 4.2 + i * 7.3;
    lg.append("line").attr("x1", 1.8).attr("x2", 13.3).attr("y1", yy).attr("y2", yy)
      .attr("stroke", legSeries[i].c).attr("stroke-width", legSeries[i].w).attr("stroke-opacity", legSeries[i].op);
    lg.append("text").attr("x", 15.7).attr("y", yy).attr("dy", "0.35em")
      .attr("font-family", fontSans).attr("font-size", 5.1).attr("fill", "#333").text(lab);
  });
}

figures.forEach(f => {
  const g = svg.append("g");
  g.append("text").attr("x", (X0 + X1) / 2).attr("y", f.titleY).attr("text-anchor", "middle")
    .attr("font-family", fontSans).attr("font-weight", "bold").attr("font-size", 8.85).attr("fill", "#000")
    .text(f.title);
  f.panels.forEach(p => drawPanel(g, p));
  g.append("text").attr("x", (X0 + X1) / 2).attr("y", f.tokenY).attr("text-anchor", "middle")
    .attr("font-family", fontSans).attr("font-size", 6.2).attr("fill", "#222").text("Token index");
});
</script>
</body></html>
